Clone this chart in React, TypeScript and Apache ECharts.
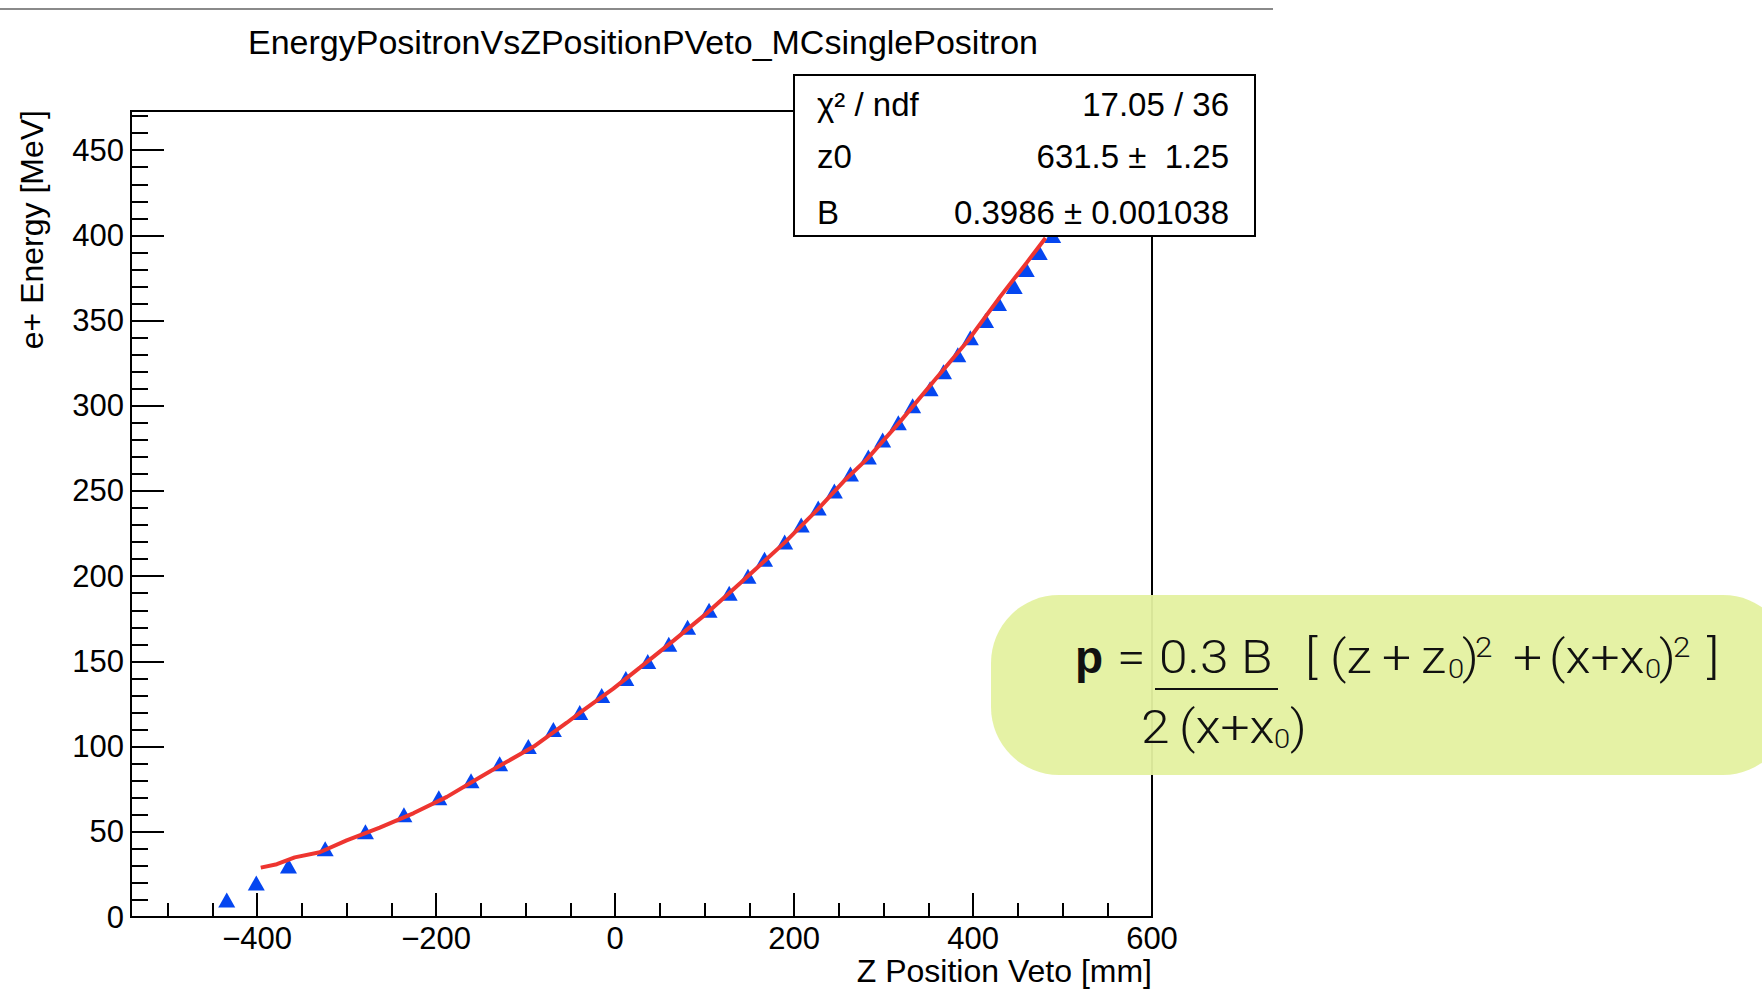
import React, { useEffect, useRef } from "react";
import * as echarts from "echarts";

// ---- data ----
const energies = [10, 20, 30, 40, 50, 60, 70, 80, 90, 100, 110, 120, 130, 140, 150, 160, 170, 180, 190, 200,
  210, 220, 230, 240, 250, 260, 270, 280, 290, 300, 310, 320, 330, 340, 350, 360, 370, 380, 390, 400];
const zPositions = [-434, -401, -365, -324, -279, -236, -197, -161, -129, -97, -69, -39.5, -15, 12, 36.5, 60, 81, 105, 127.5, 148.5,
  167, 189.5, 208, 227, 245, 263, 283, 299, 316.5, 332.5, 352, 367, 383, 397, 414, 428.5, 446, 459.5, 474, 489];

const fitZ = [-396, -378, -358, -330, -300, -263, -225, -188, -151, -128, -91, -54, -35, -2, 28, 66, 103, 140,
  190, 227, 256, 282, 319, 357, 394, 431, 460, 481];
const fitE = [29, 31, 35, 38, 45, 52.5, 61, 70.5, 82, 89, 100, 114, 121.5, 134, 146.5, 162.5, 178.5, 196,
  220, 239.5, 256, 269, 291, 315, 338, 364.5, 384, 398.5];

const xMajorTicks = [-400, -200, 0, 200, 400, 600];
const xMinorTicks = [-500, -450, -350, -300, -250, -150, -100, -50, 50, 100, 150, 250, 300, 350, 450, 500, 550];
const yMajorTicks = [0, 50, 100, 150, 200, 250, 300, 350, 400, 450];
const yMinorTicks = [10, 20, 30, 40, 60, 70, 80, 90, 110, 120, 130, 140, 160, 170, 180, 190, 210, 220, 230, 240,
  260, 270, 280, 290, 310, 320, 330, 340, 360, 370, 380, 390, 410, 420, 430, 440, 460, 470];

const X_MIN = -541;
const X_MAX = 600;
const Y_MIN = 0;
const Y_MAX = 473;

const titleText = "EnergyPositronVsZPositionPVeto_MCsinglePositron";
const xTitle = "Z Position Veto [mm]";
const yTitle = "e+ Energy [MeV]";
const statsRows = [
  ["χ² / ndf", "17.05 / 36"],
  ["z0", "631.5 ±  1.25"],
  ["B", "0.3986 ± 0.001038"],
];

const FONT = "'Liberation Sans', Arial, Helvetica, sans-serif";
const FFONT = "Roboto, 'Liberation Sans', sans-serif";

function txt(text: string, x: number, y: number, size: number, opts: any = {}) {
  const align = opts.align || "left";
  const valign = opts.valign || "middle";
  return {
    type: "text",
    x,
    y,
    z: 110,
    rotation: opts.rotation || 0,
    scaleX: opts.scaleX || 1,
    silent: true,
    style: {
      text,
      fill: opts.fill || "#000",
      fontSize: size,
      fontFamily: opts.family || FONT,
      fontWeight: opts.weight || "normal",
      align,
      textAlign: align,
      verticalAlign: valign,
      textVerticalAlign: valign,
    },
  };
}

export default function App() {
  const ref = useRef<HTMLDivElement>(null);

  useEffect(() => {
    if (!ref.current) return;
    const chart = echarts.init(ref.current, null, { renderer: "svg" });

    const scatterData = zPositions.map((z, i) => [z, energies[i]]);
    const fitData = fitZ.map((z, i) => [z, fitE[i]]);

    const gridRect = { left: 131, top: 111, width: 1021, height: 806 };

    const fLight = { family: FFONT, weight: 300, fill: "#111", scaleX: 1.12 };
    const r1 = 657;
    const r2 = 727;

    const graphic: any[] = [
      {
        type: "line",
        z: 110,
        silent: true,
        shape: { x1: 0, y1: 9, x2: 1273, y2: 9 },
        style: { stroke: "#8a8a8a", lineWidth: 2 },
      },
      txt(titleText, 643, 42, 34, { align: "center" }),
      txt(yTitle, 32, 110, 32, { align: "right", rotation: Math.PI / 2 }),
      txt(xTitle, 1152, 971, 32, { align: "right" }),
      // stats box
      {
        type: "rect",
        z: 105,
        silent: true,
        shape: { x: 794, y: 75, width: 461, height: 161 },
        style: { fill: "#fff", stroke: "#000", lineWidth: 2 },
      },
      txt(statsRows[0][0], 817, 104, 33),
      txt(statsRows[0][1], 1229, 104, 33, { align: "right" }),
      txt(statsRows[1][0], 817, 156, 33),
      txt(statsRows[1][1], 1229, 156, 33, { align: "right" }),
      txt(statsRows[2][0], 817, 212, 33),
      txt(statsRows[2][1], 1229, 212, 33, { align: "right" }),
      // formula callout
      {
        type: "rect",
        z: 105,
        silent: true,
        shape: { x: 991, y: 595, width: 800, height: 180, r: 68 },
        style: { fill: "#e4f1a0", opacity: 0.95 },
      },
      txt("p", 1075, r1, 46, { weight: "bold", family: FONT, fill: "#111" }),
      txt("=", 1117, r1, 46, fLight),
      txt("0.3 B", 1159, r1, 46, fLight),
      {
        type: "line",
        z: 110,
        silent: true,
        shape: { x1: 1155, y1: 689, x2: 1278, y2: 689 },
        style: { stroke: "#111", lineWidth: 2 },
      },
      txt("[", 1305, r1, 46, fLight),
      txt("(z", 1330, r1, 46, fLight),
      txt("+", 1382, r1, 46, fLight),
      txt("z", 1421, r1, 46, fLight),
      txt("0", 1448, r1 + 12, 26, fLight),
      txt(")", 1462, r1, 46, fLight),
      txt("2", 1475, r1 - 10, 28, fLight),
      txt("+", 1513, r1, 46, fLight),
      txt("(x+x", 1549, r1, 46, fLight),
      txt("0", 1645, r1 + 12, 26, fLight),
      txt(")", 1659, r1, 46, fLight),
      txt("2", 1673, r1 - 10, 28, fLight),
      txt("]", 1707, r1, 46, fLight),
      txt("2", 1141, r2, 46, fLight),
      txt("(x+x", 1179, r2, 46, fLight),
      txt("0", 1274, r2 + 12, 26, fLight),
      txt(")", 1290, r2, 46, fLight),
    ];

    const fmt = (v: number) => (v < 0 ? "\u2212" + Math.abs(v) : String(v));

    chart.setOption({
      animation: false,
      backgroundColor: "#fff",
      grid: [
        { ...gridRect, show: true, borderColor: "#000", borderWidth: 2, backgroundColor: "transparent" },
        { ...gridRect, show: false },
      ],
      xAxis: [
        {
          type: "value",
          gridIndex: 0,
          min: X_MIN,
          max: X_MAX,
          axisLine: { show: true, onZero: false, lineStyle: { color: "#000", width: 2 } },
          axisTick: {
            show: true,
            inside: true,
            length: 24,
            customValues: xMajorTicks,
            lineStyle: { color: "#000", width: 2 },
          },
          axisLabel: {
            show: true,
            customValues: xMajorTicks,
            formatter: fmt,
            color: "#000",
            fontSize: 31,
            fontFamily: FONT,
            margin: 6,
          },
          splitLine: { show: false },
        },
        {
          type: "value",
          gridIndex: 1,
          min: X_MIN,
          max: X_MAX,
          axisLine: { show: false, onZero: false },
          axisTick: {
            show: true,
            inside: true,
            length: 14,
            customValues: xMinorTicks,
            lineStyle: { color: "#000", width: 2 },
          },
          axisLabel: { show: false },
          splitLine: { show: false },
        },
      ],
      yAxis: [
        {
          type: "value",
          gridIndex: 0,
          min: Y_MIN,
          max: Y_MAX,
          axisLine: { show: true, onZero: false, lineStyle: { color: "#000", width: 2 } },
          axisTick: {
            show: true,
            inside: true,
            length: 33,
            customValues: yMajorTicks,
            lineStyle: { color: "#000", width: 2 },
          },
          axisLabel: {
            show: true,
            customValues: yMajorTicks,
            color: "#000",
            fontSize: 31,
            fontFamily: FONT,
            margin: 7,
          },
          splitLine: { show: false },
        },
        {
          type: "value",
          gridIndex: 1,
          min: Y_MIN,
          max: Y_MAX,
          axisLine: { show: false, onZero: false },
          axisTick: {
            show: true,
            inside: true,
            length: 17,
            customValues: yMinorTicks,
            lineStyle: { color: "#000", width: 2 },
          },
          axisLabel: { show: false },
          splitLine: { show: false },
        },
      ],
      series: [
        {
          name: "MC single positron",
          type: "scatter",
          xAxisIndex: 0,
          yAxisIndex: 0,
          symbol: "triangle",
          symbolSize: [17, 15],
          itemStyle: { color: "#0546f0", opacity: 1 },
          data: scatterData,
          z: 2,
        },
        {
          name: "fit",
          type: "line",
          xAxisIndex: 0,
          yAxisIndex: 0,
          showSymbol: false,
          smooth: false,
          lineStyle: { color: "#ee3530", width: 4 },
          data: fitData,
          z: 3,
        },
      ],
      graphic,
    });

    return () => chart.dispose();
  }, []);

  return (
    <div
      ref={ref}
      style={{ position: "absolute", left: 0, top: 0, width: 1762, height: 1006, background: "#fff" }}
    />
  );
}
